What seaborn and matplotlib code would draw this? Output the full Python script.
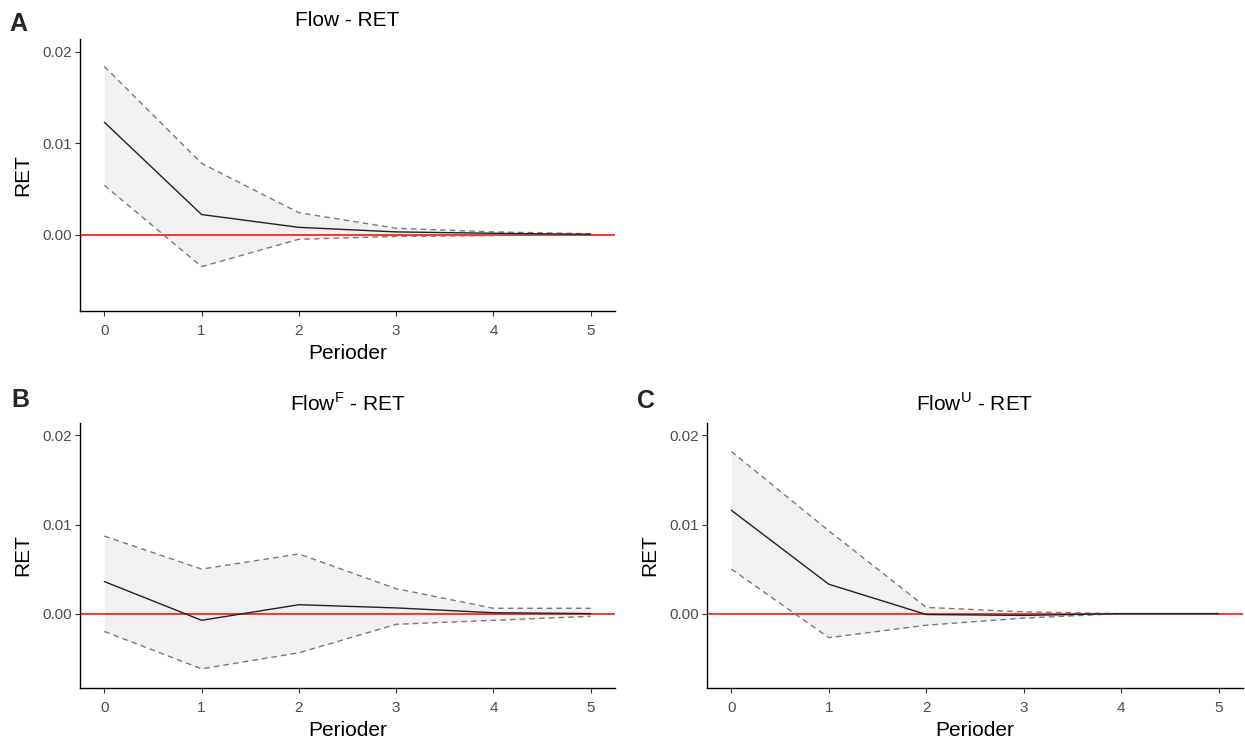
import numpy as np
import pandas as pd
import matplotlib
matplotlib.use("Agg")
import matplotlib.pyplot as plt
import seaborn as sns

periods = [0, 1, 2, 3, 4, 5]

# Panel A: Flow - RET
a_irf = [0.0123, 0.0022, 0.0008, 0.0003, 0.00015, 0.00004]
a_upper = [0.0184, 0.0078, 0.0024, 0.0007, 0.0003, 0.0001]
a_lower = [0.0054, -0.0035, -0.0005, -0.0002, -0.0001, 0.0000]

# Panel B: Flow^F - RET
b_irf = [0.0036, -0.00075, 0.0010, 0.00064, 0.0001, 0.0000]
b_upper = [0.0087, 0.0050, 0.0067, 0.0028, 0.0006, 0.0006]
b_lower = [-0.0020, -0.0062, -0.0044, -0.0012, -0.00075, -0.0003]

# Panel C: Flow^U - RET
c_irf = [0.0116, 0.0033, -0.0001, -0.0002, 0.0000, 0.0000]
c_upper = [0.0182, 0.0093, 0.0007, 0.0002, 0.0000, 0.0000]
c_lower = [0.0050, -0.0027, -0.0013, -0.0005, -0.0000, 0.0000]

titles = ["Flow - RET", r"Flow$^{\mathregular{F}}$ - RET", r"Flow$^{\mathregular{U}}$ - RET"]
tags = ["A", "B", "C"]
yticks = [0.00, 0.01, 0.02]
xticks = periods

sns.set_theme(style="ticks")
plt.rcParams['font.family'] = ['Liberation Sans', 'DejaVu Sans']
plt.rcParams['mathtext.fontset'] = 'custom'
plt.rcParams['mathtext.rm'] = 'Liberation Sans'

W, H = 1245, 744
fig = plt.figure(figsize=(W / 100, H / 100), dpi=100)

def axes_px(l, t, r, b):
    return fig.add_axes([l / W, 1 - b / H, (r - l) / W, (b - t) / H])

boxes = [(80, 39, 615, 311), (80, 423, 615, 688), (707, 423, 1243, 688)]
tag_pos = [(9, 31), (11, 407), (637, 408)]
data = [(a_irf, a_upper, a_lower), (b_irf, b_upper, b_lower), (c_irf, c_upper, c_lower)]

for box, (irf, up, lo), title, tag, tp in zip(boxes, data, titles, tags, tag_pos):
    ax = axes_px(*box)
    df = pd.DataFrame({"Perioder": periods, "irf": irf, "upper": up, "lower": lo})
    ax.fill_between(df["Perioder"], df["lower"], df["upper"], color="#F1F1F1", lw=0, zorder=1)
    ax.axhline(0, color="#FF0000", lw=1.1, zorder=2)
    sns.lineplot(data=df, x="Perioder", y="upper", ax=ax, color="#7A7A7A", lw=1.0,
                 linestyle=(0, (4, 3)), zorder=3)
    sns.lineplot(data=df, x="Perioder", y="lower", ax=ax, color="#7A7A7A", lw=1.0,
                 linestyle=(0, (4, 3)), zorder=3)
    sns.lineplot(data=df, x="Perioder", y="irf", ax=ax, color="#222222", lw=1.0, zorder=4)
    ax.set_xlim(-0.25, 5.25)
    ax.set_ylim(-0.00835, 0.0214)
    ax.set_xticks(xticks)
    ax.set_xticklabels([str(p) for p in xticks])
    ax.set_yticks(yticks)
    ax.set_yticklabels([f"{v:.2f}" for v in yticks])
    ax.tick_params(axis="both", labelsize=11, colors="#333333", labelcolor="#4D4D4D",
                   length=3.5, width=0.8)
    ax.tick_params(axis="x", pad=6)
    ax.tick_params(axis="y", pad=2.5)
    for s in ["top", "right"]:
        ax.spines[s].set_visible(False)
    for s in ["left", "bottom"]:
        ax.spines[s].set_color("black")
        ax.spines[s].set_linewidth(1.0)
    ax.set_xlabel("Perioder", fontsize=15, color="black", labelpad=4)
    ax.set_ylabel("RET", fontsize=15, color="black", labelpad=7)
    ax.set_title(title, fontsize=15, color="black", pad=9)
    fig.text(tp[0] / W, 1 - tp[1] / H, tag, fontsize=18, fontweight="bold",
             ha="left", va="baseline")

fig.savefig("out.png", dpi=100)
